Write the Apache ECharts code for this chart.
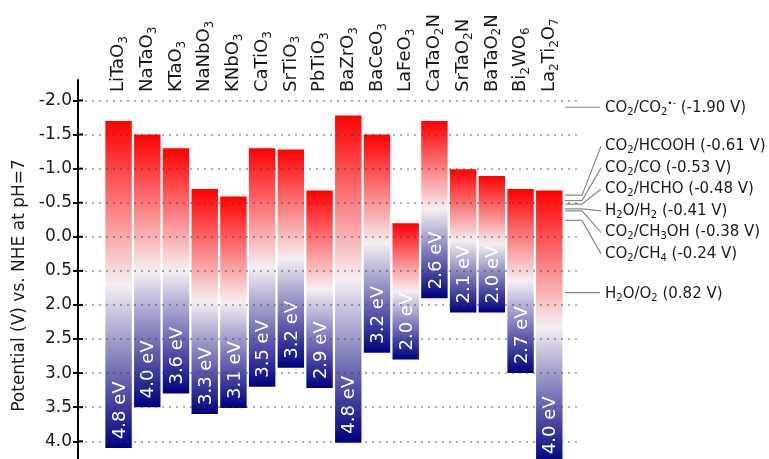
<!DOCTYPE html>
<html>
<head>
<meta charset="utf-8">
<script src="https://cdn.jsdelivr.net/npm/echarts@6/dist/echarts.min.js"></script>
<style>
  html, body { margin: 0; padding: 0; background: #fff; }
  #chart { width: 769px; height: 459px; }
</style>
</head>
<body>
<div id="chart"></div>
<script>
// Band edge positions (V vs. NHE, pH 7) of perovskite-type photocatalysts.
// "_x" marks a subscript, "^{..}" a superscript.
const materials = ['LiTaO_3', 'NaTaO_3', 'KTaO_3', 'NaNbO_3', 'KNbO_3', 'CaTiO_3', 'SrTiO_3', 'PbTiO_3',
                   'BaZrO_3', 'BaCeO_3', 'LaFeO_3', 'CaTaO_2N', 'SrTaO_2N', 'BaTaO_2N', 'Bi_2WO_6', 'La_2Ti_2O_7'];
const conductionBand = [-1.70, -1.50, -1.30, -0.70, -0.59, -1.30, -1.28, -0.68,
                        -1.78, -1.50, -0.20, -1.70, -0.99, -0.89, -0.70, -0.68];
const bandGap = [4.8, 4.0, 3.6, 3.3, 3.1, 3.5, 3.2, 2.9, 4.8, 3.2, 2.0, 2.6, 2.1, 2.0, 2.7, 4.0];

// Redox couples marked on the right-hand side
const redoxNames = ['CO_2/CO_2^{•-}', 'CO_2/HCOOH', 'CO_2/CO', 'CO_2/HCHO', 'H_2O/H_2',
                    'CO_2/CH_3OH', 'CO_2/CH_4', 'H_2O/O_2'];
const redoxPotentials = [-1.90, -0.61, -0.53, -0.48, -0.41, -0.38, -0.24, 0.82];

// Potential axis ticks and their printed labels
const tickValues = [-2.0, -1.5, -1.0, -0.5, 0.0, 0.5, 1.0, 1.5, 2.0, 2.5, 3.0];
const tickLabels = ['-2.0', '-1.5', '-1.0', '-0.5', '0.0', '0.5', '2.0', '2.5', '3.0', '3.5', '4.0'];

const FONT = 'DejaVu Sans';
const X_MIN = -1.413, X_MAX = 16.07;
const Y_MIN = -2.30, Y_MAX = 3.26;

// Convert "_x" / "^{..}" markup into ECharts rich-text tokens
function richText(s) {
  let out = '', buf = '';
  const flush = () => { if (buf) { out += '{n|' + buf + '}'; buf = ''; } };
  for (let i = 0; i < s.length; i++) {
    const c = s[i];
    if (c === '_') { flush(); out += '{s|' + s[i + 1] + '}'; i++; }
    else if (c === '^') { flush(); const j = s.indexOf('}', i); out += '{p|' + s.slice(i + 2, j) + '}'; i = j; }
    else buf += c;
  }
  flush();
  return out;
}

const nameRich = {
  n: { fontSize: 18, lineHeight: 25, fontFamily: FONT, fill: '#1a1a1a', color: '#1a1a1a' },
  s: { fontSize: 12, padding: [11, 0, 0, 0], fontFamily: FONT, fill: '#1a1a1a', color: '#1a1a1a' }
};
const redoxRich = {
  n: { fontSize: 15, lineHeight: 20, fontFamily: FONT, fill: '#1a1a1a', color: '#1a1a1a' },
  s: { fontSize: 10, padding: [9, 0, 0, 0], fontFamily: FONT, fill: '#1a1a1a', color: '#1a1a1a' },
  p: { fontSize: 9, padding: [0, 0, 9, 0], fontFamily: FONT, fill: '#1a1a1a', color: '#1a1a1a' }
};

const bandData = materials.map((m, i) => [i, conductionBand[i], conductionBand[i] + bandGap[i], bandGap[i]]);
const redoxData = redoxPotentials.map((v, k) => [k, v]);
const tickData = tickValues.map(v => [X_MIN, v]);

function tickLabel(v) {
  const k = tickValues.findIndex(t => Math.abs(t - v) < 1e-6);
  return k < 0 ? '' : tickLabels[k];
}

function renderBand(params, api) {
  const i = api.value(0);
  const top = api.coord([i, api.value(1)]);
  const bottom = api.coord([i, api.value(2)]);
  const w = api.size([0.92, 0])[0];
  const axisTop = api.coord([i, Y_MIN])[1];
  return {
    type: 'group',
    children: [
      {
        type: 'rect',
        shape: { x: top[0] - w / 2, y: top[1], width: w, height: bottom[1] - top[1] },
        style: {
          fill: new echarts.graphic.LinearGradient(0, 0, 0, 1, [
            { offset: 0, color: '#ff0000' },
            { offset: 0.5, color: '#f5eef2' },
            { offset: 1, color: '#000080' }
          ])
        }
      },
      {
        type: 'text',
        x: bottom[0] + 1.5,
        y: bottom[1] - 9,
        rotation: Math.PI / 2,
        style: {
          text: api.value(3).toFixed(1) + ' eV',
          fill: '#ffffff',
          fontSize: 18,
          fontFamily: FONT,
          align: 'left',
          verticalAlign: 'middle'
        }
      },
      {
        type: 'text',
        x: top[0],
        y: axisTop + 12,
        rotation: Math.PI / 2,
        style: {
          text: richText(materials[i]),
          rich: nameRich,
          align: 'left',
          verticalAlign: 'middle'
        }
      }
    ]
  };
}

// Inward half of the potential-axis ticks (the outward half comes from the axis itself)
function renderInnerTick(params, api) {
  const p = api.coord([api.value(0), api.value(1)]);
  return {
    type: 'line',
    shape: { x1: p[0], y1: p[1], x2: p[0] + 5, y2: p[1] },
    style: { stroke: '#000', lineWidth: 2 }
  };
}

function renderRedox(params, api) {
  const k = api.value(0);
  const v = api.value(1);
  const p = api.coord([X_MAX, v]);
  const xStart = p[0] - 15, xText = p[0] + 25;
  const label = richText(redoxNames[k]) + '{n| (' + v.toFixed(2) + ' V)}';
  const inCluster = v > -1 && v < 0;
  let points, ty;
  if (inCluster) {
    // fan the closely spaced couples out around H2O/H2
    const ref = api.coord([X_MAX, redoxPotentials[4]])[1];
    ty = ref + 2 + (k - 4) * 21.5;
    points = [[xStart, p[1]], [p[0] + 2, p[1]], [p[0] + 21, ty]];
  } else {
    ty = p[1] + 1;
    points = [[xStart, p[1]], [p[0] + 20, p[1]]];
  }
  return {
    type: 'group',
    children: [
      { type: 'polyline', shape: { points }, style: { stroke: '#8a8a8a', lineWidth: 1.2, fill: null } },
      {
        type: 'text', x: xText, y: ty,
        style: { text: label, rich: redoxRich, align: 'left', verticalAlign: 'middle' }
      }
    ]
  };
}

const chart = echarts.init(document.getElementById('chart'), null, { renderer: 'canvas' });
chart.setOption({
  animation: false,
  backgroundColor: '#ffffff',
  grid: { left: 78, top: 80, width: 502, height: 379 },
  xAxis: { type: 'value', min: X_MIN, max: X_MAX, show: false },
  yAxis: [
    {
      type: 'value', inverse: true, min: Y_MIN, max: Y_MAX, position: 'left', z: 6,
      axisLine: { show: true, onZero: false, lineStyle: { color: '#000', width: 2 } },
      axisTick: { show: true, inside: false, length: 5, customValues: tickValues, lineStyle: { color: '#000', width: 2 } },
      axisLabel: { show: true, customValues: tickValues, formatter: tickLabel, margin: 6,
                   color: '#1a1a1a', fontSize: 17, fontFamily: FONT },
      splitLine: { show: false },
      name: 'Potential (V) vs. NHE at pH=7',
      nameLocation: 'middle', nameRotate: 90, nameGap: 48,
      nameTextStyle: { fontSize: 17, fontFamily: FONT, color: '#1a1a1a', padding: [0, 32, 0, 0] }
    },
    {
      // carries only the dotted grid lines, drawn above the bands
      type: 'value', inverse: true, min: Y_MIN, max: Y_MAX, position: 'left', z: 5,
      axisLine: { show: false },
      axisLabel: { show: false, customValues: tickValues },
      axisTick: { show: false, customValues: tickValues },
      splitLine: { show: true, lineStyle: { color: 'rgba(60,60,60,0.55)', type: [2, 5], width: 1.5 } }
    }
  ],
  series: [
    { type: 'custom', name: 'bands', xAxisIndex: 0, yAxisIndex: 0, data: bandData, renderItem: renderBand, z: 2 },
    { type: 'custom', name: 'ticks', xAxisIndex: 0, yAxisIndex: 0, data: tickData, renderItem: renderInnerTick, z: 4 },
    { type: 'custom', name: 'redox', xAxisIndex: 0, yAxisIndex: 0, data: redoxData, renderItem: renderRedox, z: 3 }
  ]
});
</script>
</body>
</html>
